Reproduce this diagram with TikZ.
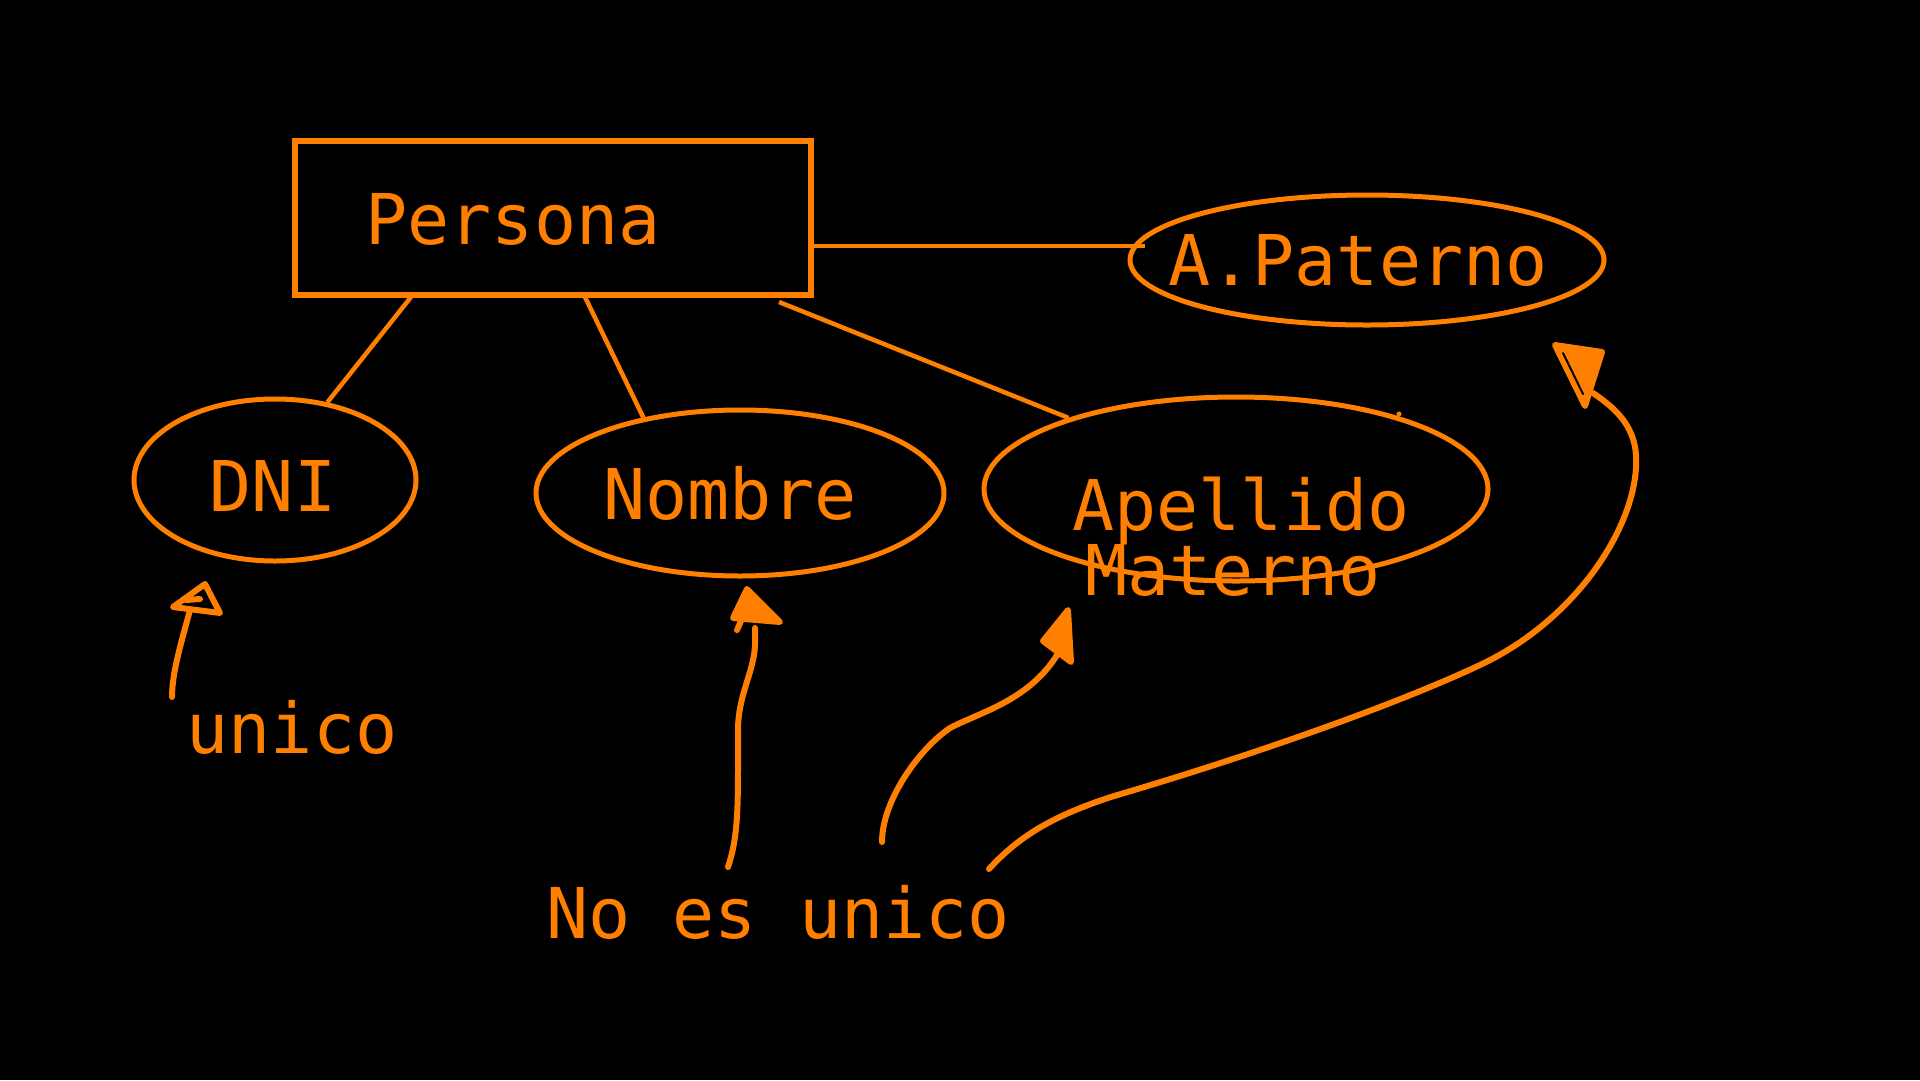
\documentclass[tikz,border=0pt]{standalone}
\usepackage{fontspec}
\setmonofont{DejaVu Sans Mono}
\usetikzlibrary{shapes.geometric}
\definecolor{org}{RGB}{255,128,0}
\begin{document}
\begin{tikzpicture}[x=1pt,y=-1pt,
  lbl/.style={text=org, font=\ttfamily\fontsize{70}{80}\selectfont, anchor=base, inner sep=0pt},
  attr/.style={ellipse, draw=org, line width=5pt, inner sep=0pt},
  link/.style={draw=org, line width=4.5pt},
  hand/.style={draw=org, line width=6pt, line cap=round, line join=round},
  headfill/.style={hand, fill=org}]
\fill[black] (0,0) rectangle (1920,1080);
\useasboundingbox (0,0) rectangle (1920,1080);

% entity
\node[draw=org, line width=5.5pt, minimum width=516pt, minimum height=154pt, inner sep=0pt] (persona) at (553,218) {};
\node[lbl] (personaT) at (513,244) {Persona};

% attributes
\node[attr, minimum width=474pt, minimum height=130pt] (paterno) at (1367,260) {};
\node[lbl] (paternoT) at (1358,285) {A.Paterno};
\node[attr, minimum width=282pt, minimum height=162pt] (dni) at (275,480) {};
\node[lbl] (dniT) at (273,511) {DNI};
\node[attr, minimum width=408pt, minimum height=166pt] (nombre) at (740,493) {};
\node[lbl] (nombreT) at (730,519) {Nombre};
\node[attr, minimum width=504pt, minimum height=184pt] (apellido) at (1236,489) {};
\node[lbl] (apellidoT) at (1241,530) {Apellido};
\node[lbl] (maternoT) at (1233,595) {Materno};

% connector ends on the entity
\coordinate (pa) at (411,297);
\coordinate (pb) at (585,297);
\coordinate (pc) at (779,302);
\coordinate (pd) at (811,246);
\coordinate (pdEnd) at (1145,246);
\draw[link] (pa) -- (dni.56);
\draw[link] (pb) -- (nombre.142);
\draw[link] (pc) -- (apellido.157);
\draw[link] (pd) -- (pdEnd);

% small dot
\fill[org] (1399,414) circle (2.5pt);

% notes
\node[lbl] (unicoT) at (292,753) {unico};
\node[lbl] (noesT) at (778,938) {No es unico};

% hand-drawn arrows
\coordinate (a1s) at (172,697);
\coordinate (a1e) at (190,610);
\draw[hand] (a1s) .. controls (172,672) and (182,640) .. (a1e);
\draw[hand] (173,607) -- (205,584) -- (220,613) -- cycle;
\draw[hand] (186,600) -- (200,599);

\coordinate (a2s) at (728,867);
\coordinate (a2e) at (755,628);
\draw[hand] (a2s) .. controls (737,840) and (738,815) .. (738,765)
  -- (738,730) .. controls (738,695) and (754,672) .. (755,645) -- (a2e);
\draw[headfill] (747,589) -- (733,618) -- (780,622) -- cycle;
\draw[hand] (737,630) -- (744,614);

\coordinate (a3s) at (882,842);
\coordinate (a3e) at (1060,650);
\draw[hand] (a3s) .. controls (882,800) and (920,748) .. (950,728)
  .. controls (980,712) and (1032,700) .. (a3e);
\draw[headfill] (1068,610) -- (1043,641) -- (1071,662) -- cycle;

\coordinate (a4s) at (989,869);
\coordinate (a4e) at (1593,393);
\draw[hand] (a4s) .. controls (1020,835) and (1055,815) .. (1114,796)
  .. controls (1220,765) and (1380,712) .. (1480,665)
  .. controls (1580,618) and (1640,520) .. (1636,455)
  .. controls (1634,425) and (1615,408) .. (a4e);
\draw[headfill] (1555,345) -- (1602,352) -- (1585,406) -- cycle;
\draw[black, line width=2pt, line cap=round] (1563,353) -- (1583,394);
\end{tikzpicture}
\end{document}
